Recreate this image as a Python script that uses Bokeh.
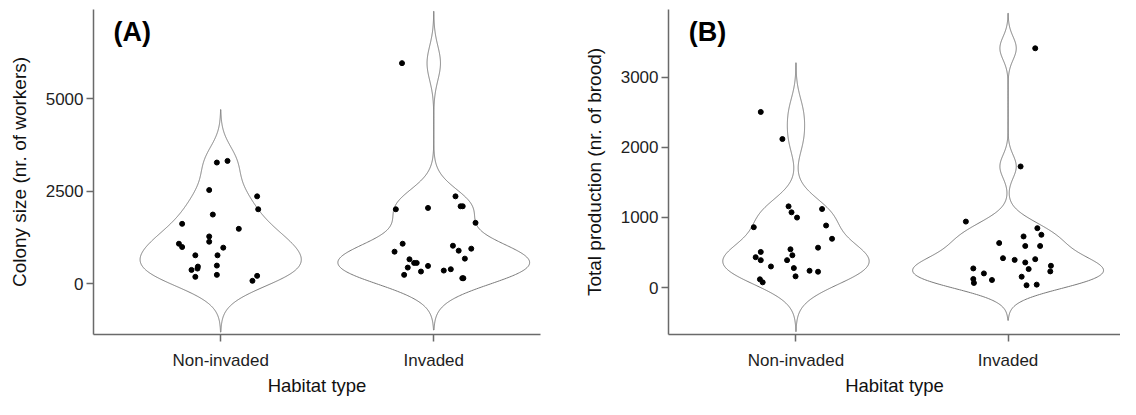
import numpy as np
from bokeh.plotting import figure
from bokeh.layouts import row
from bokeh.models import Range1d, FixedTicker, Label
from bokeh.embed import file_html
from bokeh.resources import INLINE

# ---------------- data ----------------
habitats = ["Non-invaded", "Invaded"]
x_title = "Habitat type"

# Panel A: colony size (nr. of workers)
colony_non_invaded = [3280, 3324, 2536, 2366, 2016, 1873, 1622, 1487, 1281, 1138, 1084, 995,
                      977, 771, 771, 493, 466, 412, 376, 188, 242, 215, 81]
colony_non_invaded_jitter = [-0.018, 0.032, -0.054, 0.171, 0.176, -0.037, -0.181, 0.085, -0.054,
                             -0.054, -0.196, -0.181, 0.012, -0.119, -0.015, -0.018, -0.107, -0.109,
                             -0.137, -0.119, -0.018, 0.171, 0.149]
colony_invaded = [5968, 2016, 2052, 2366, 2097, 2097, 1649, 1084, 869, 1030, 896, 950, 663, 565,
                  565, 681, 439, 484, 332, 358, 394, 242, 152, 152]
colony_invaded_jitter = [-0.149, -0.178, -0.027, 0.102, 0.126, 0.136, 0.196, -0.146, -0.184, 0.090,
                         0.117, 0.176, -0.114, -0.092, -0.080, 0.146, -0.122, -0.027, -0.060, 0.047,
                         0.080, -0.139, 0.134, 0.139]

# Panel B: total production (nr. of brood)
brood_non_invaded = [2504, 2118, 1158, 1073, 998, 1120, 861, 885, 696, 569, 508, 546, 461, 433,
                     391, 391, 301, 278, 240, 226, 160, 118, 75]
brood_non_invaded_jitter = [-0.166, -0.064, -0.035, -0.021, 0.005, 0.123, -0.199, 0.142, 0.170,
                            0.104, -0.166, -0.026, -0.017, -0.190, -0.166, -0.042, -0.118, -0.010,
                            0.064, 0.104, -0.002, -0.170, -0.157]
brood_invaded = [3412, 1727, 941, 847, 729, 753, 635, 593, 593, 419, 395, 405, 358, 311, 273, 264,
                 231, 202, 122, 66, 108, 155, 33, 42]
brood_invaded_jitter = [0.128, 0.059, -0.199, 0.138, 0.073, 0.157, -0.042, 0.081, 0.151, -0.024,
                        0.031, 0.128, 0.081, 0.202, -0.164, 0.097, 0.199, -0.114, -0.164, -0.161,
                        -0.076, 0.064, 0.087, 0.135]

ticks_a = [0, 2500, 5000]
ticks_b = [0, 1000, 2000, 3000]

FONT = "Liberation Sans"
AXIS_COLOR = "#6a6a6a"
VIOLIN_COLOR = "#7a7a7a"


def bw_nrd0(x):
    x = np.asarray(x, float)
    sd = x.std(ddof=1)
    q75, q25 = np.percentile(x, [75, 25])
    lo = min(sd, (q75 - q25) / 1.34)
    return 0.9 * lo * len(x) ** (-0.2)


def kde(x):
    x = np.asarray(x, float)
    bw = bw_nrd0(x)
    grid = np.linspace(x.min() - 3 * bw, x.max() + 3 * bw, 512)
    d = np.exp(-0.5 * ((grid[:, None] - x[None, :]) / bw) ** 2).sum(1) / (len(x) * bw * np.sqrt(2 * np.pi))
    return grid, d


def panel(groups, jitters, ylabel, ticks, tag, xr, yr, width, height, borders):
    left, right, top, bottom = borders
    p = figure(width=width, height=height, output_backend="svg", toolbar_location=None,
               x_range=Range1d(*xr), y_range=Range1d(*yr),
               min_border_left=left, min_border_right=right,
               min_border_top=top, min_border_bottom=bottom)
    p.outline_line_color = None
    p.xgrid.visible = False
    p.ygrid.visible = False
    p.background_fill_color = "white"

    dens = [kde(g) for g in groups]
    dmax = max(d.max() for _, d in dens)
    for i, (grid, d) in enumerate(dens):
        pos = i + 1
        half = 0.45 * d / dmax
        xs = np.concatenate([pos + half, (pos - half)[::-1]])
        ys = np.concatenate([grid, grid[::-1]])
        p.patch(xs, ys, fill_color="white", line_color=VIOLIN_COLOR, line_width=1)
    for i, (g, j) in enumerate(zip(groups, jitters)):
        pos = i + 1
        p.scatter(pos + np.asarray(j), g, size=5, color="black")

    p.xaxis.ticker = FixedTicker(ticks=[1, 2])
    p.xaxis.major_label_overrides = {1: habitats[0], 2: habitats[1]}
    p.yaxis.ticker = FixedTicker(ticks=ticks)
    for ax in (p.xaxis[0], p.yaxis[0]):
        ax.axis_line_color = AXIS_COLOR
        ax.axis_line_width = 1.5
        ax.major_tick_line_color = AXIS_COLOR
        ax.major_tick_line_width = 1.5
        ax.major_tick_out = 7
        ax.major_tick_in = 0
        ax.minor_tick_line_color = None
        ax.major_label_text_font = FONT
        ax.major_label_text_font_size = "17px"
        ax.major_label_text_color = "#1e1e1e"
        ax.axis_label_text_font = FONT
        ax.axis_label_text_font_style = "normal"
        ax.axis_label_text_color = "#111111"
    p.xaxis.major_label_standoff = 9
    p.yaxis.major_label_standoff = 3
    p.xaxis.axis_label = x_title
    p.xaxis.axis_label_text_font_size = "18.5px"
    p.xaxis.axis_label_standoff = 2
    p.yaxis.axis_label = ylabel
    p.yaxis.axis_label_text_font_size = "19px"
    p.yaxis.axis_label_standoff = 13

    x0, x1 = xr
    y0, y1 = yr
    p.add_layout(Label(x=x0 + 0.045 * (x1 - x0), y=y1 - 0.07 * (y1 - y0), text=tag,
                       text_font=FONT, text_font_size="27px", text_font_style="bold",
                       text_baseline="middle", text_color="black"))
    return p


pa = panel([colony_non_invaded, colony_invaded],
           [colony_non_invaded_jitter, colony_invaded_jitter],
           "Colony size (nr. of workers)", ticks_a, "(A)",
           (0.403, 2.501), (-1371, 7419), 570, 399, (93, 30, 7, 65))
pb = panel([brood_non_invaded, brood_invaded],
           [brood_non_invaded_jitter, brood_invaded_jitter],
           "Total production (nr. of brood)", ticks_b, "(B)",
           (0.399, 2.53), (-669, 3965), 550, 399, (98, 0, 9, 61))

layout = row(pa, pb)
open("out.html", "w").write(file_html(layout, INLINE))
